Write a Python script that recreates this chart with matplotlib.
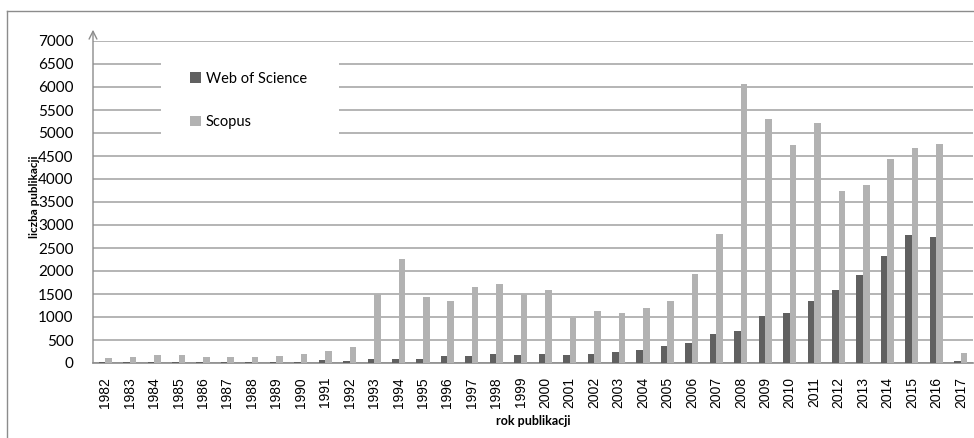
import numpy as np
import matplotlib
matplotlib.use("Agg")
import matplotlib.pyplot as plt
from matplotlib.patches import Rectangle
from matplotlib.lines import Line2D

years = [str(y) for y in range(1982, 2018)]
wos = [20, 20, 20, 20, 20, 20, 20, 22, 25, 70, 50, 95, 95, 95, 145, 145, 190, 167, 190,
       167, 190, 232, 278, 372, 430, 632, 697, 1030, 1095, 1340, 1585, 1920, 2318, 2788,
       2738, 50]
scopus = [110, 130, 175, 175, 130, 130, 130, 155, 185, 270, 348, 1493, 2260, 1437, 1348,
          1652, 1725, 1493, 1595, 972, 1125, 1078, 1192, 1346, 1940, 2808, 6058, 5298, 4742,
          5212, 3742, 3872, 4445, 4677, 4762, 210]

c_wos = "#606060"
c_scopus = "#b2b2b2"
grid_c = "#a8a8a8"
axis_c = "#8c8c8c"

fig = plt.figure(figsize=(9.74, 4.38), dpi=100)
ax = fig.add_axes([93 / 974, 75 / 438, 880 / 974, 322 / 438])

x = np.arange(len(years))
w = 0.27
ax.bar(x - w / 2, wos, width=w, color=c_wos, label="Web of Science", zorder=3)
ax.bar(x + w / 2, scopus, width=w, color=c_scopus, label="Scopus", zorder=3)

ax.set_xlim(-0.5, len(years) - 0.5)
ax.set_ylim(0, 7000)
ax.set_yticks(np.arange(0, 7001, 500))
ax.yaxis.grid(True, color=grid_c, lw=1.2, zorder=0)
ax.set_axisbelow(True)

ax.set_xticks(x)
ax.set_xticklabels(years, rotation=90, family=["Liberation Sans", "DejaVu Sans"],
                   fontsize=10)
ax.tick_params(axis="x", length=0, pad=10)
ax.tick_params(axis="y", length=0, pad=14)
for t in ax.get_yticklabels():
    t.set_family(["Lato", "DejaVu Sans"])
    t.set_fontsize(11)

for s in ["top", "right", "left"]:
    ax.spines[s].set_visible(False)
ax.spines["bottom"].set_color(axis_c)
ax.spines["bottom"].set_linewidth(1.2)

# y axis with open arrow head
ax.annotate("", xy=(0, 1.035), xycoords="axes fraction", xytext=(0, 0),
            textcoords="axes fraction",
            arrowprops=dict(arrowstyle="->", color=axis_c, lw=1.0,
                            mutation_scale=14, shrinkA=0, shrinkB=0))

# white box behind legend hiding gridlines
ax.add_patch(Rectangle((0.0773, 0.677), 0.2023, 0.289, transform=ax.transAxes,
                       facecolor="white", edgecolor="none", zorder=1))
leg = ax.legend(loc="upper left", bbox_to_anchor=(0.1025, 0.927), frameon=False,
                borderpad=0, handlelength=0.75, handleheight=0.75, handletextpad=0.3,
                labelspacing=2.0, prop={"family": ["Lato", "DejaVu Sans"], "size": 10.5})
leg.set_zorder(4)

fig.text(34 / 974, 1 - 197 / 438, "liczba publikacji", rotation=90, ha="center",
         va="center", fontsize=8.5, fontweight="bold", family=["Lato", "DejaVu Sans"])
fig.text(533 / 974, 1 - 421 / 438, "rok publikacji", ha="center", va="center",
         fontsize=9, fontweight="bold", family=["Lato", "DejaVu Sans"])

# outer frame (only top and left edges visible)
fig.add_artist(Line2D([7 / 974, 1], [1 - 11 / 438, 1 - 11 / 438], color=axis_c, lw=1.0))
fig.add_artist(Line2D([7 / 974, 7 / 974], [0, 1 - 11 / 438], color=axis_c, lw=1.0))

fig.savefig("out.png", dpi=100)
